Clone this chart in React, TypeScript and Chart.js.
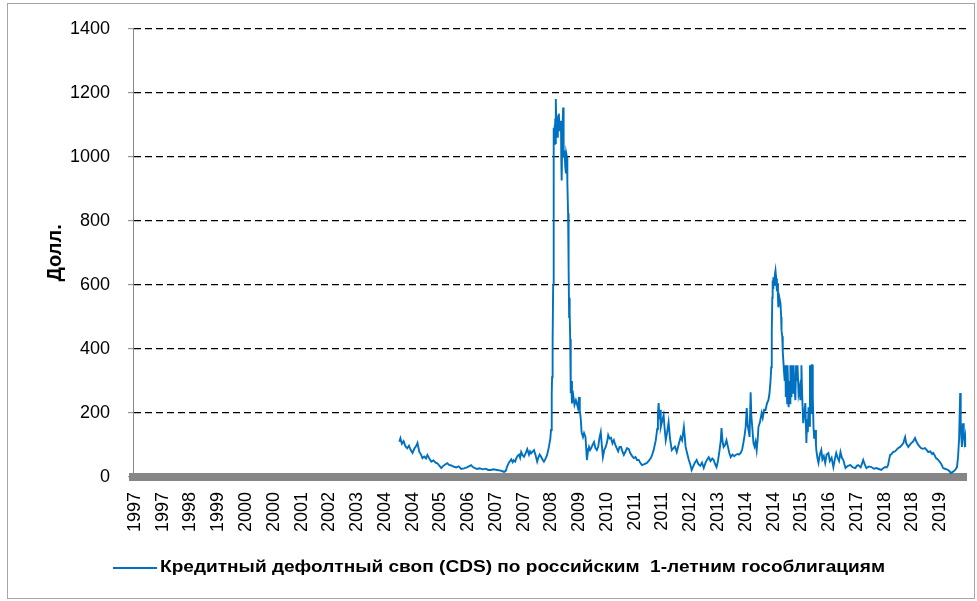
import React, { useEffect, useRef } from "react";
import { Chart, registerables } from "chart.js";

Chart.register(...registerables);

// Dates as fractional years, values in USD (basis points of CDS price)
const years: number[] = [
  2004.40, 2004.43, 2004.47, 2004.52, 2004.57, 2004.62, 2004.67, 2004.72, 2004.77, 2004.82, 2004.88, 2004.91, 2004.96,
  2005.01, 2005.05, 2005.10, 2005.15, 2005.19, 2005.25, 2005.30, 2005.36, 2005.42, 2005.47, 2005.52, 2005.58, 2005.63,
  2005.70, 2005.75, 2005.80, 2005.86, 2005.94, 2006.00, 2006.07, 2006.14, 2006.22, 2006.30, 2006.37, 2006.42, 2006.47,
  2006.53, 2006.59, 2006.66, 2006.75, 2006.83, 2006.90, 2006.98, 2007.05, 2007.15, 2007.25, 2007.30, 2007.35, 2007.40,
  2007.43, 2007.48, 2007.55, 2007.59, 2007.62, 2007.66, 2007.69, 2007.73, 2007.77, 2007.80, 2007.83, 2007.87, 2007.91,
  2007.96, 2008.00, 2008.05, 2008.08, 2008.11, 2008.15, 2008.19, 2008.23, 2008.28, 2008.31, 2008.35, 2008.39, 2008.43,
  2008.47, 2008.52, 2008.56, 2008.61, 2008.65, 2008.67, 2008.69, 2008.70, 2008.71, 2008.72, 2008.73, 2008.74, 2008.75,
  2008.76, 2008.77, 2008.78, 2008.79, 2008.80, 2008.81, 2008.82, 2008.83, 2008.84, 2008.86, 2008.87, 2008.89, 2008.91,
  2008.93, 2008.95, 2008.96, 2008.97, 2008.99, 2009.01, 2009.02, 2009.03, 2009.05, 2009.07, 2009.09, 2009.10, 2009.12,
  2009.13, 2009.15, 2009.16, 2009.17, 2009.18, 2009.19, 2009.20, 2009.21, 2009.22, 2009.23, 2009.24, 2009.26, 2009.28,
  2009.30, 2009.33, 2009.37, 2009.40, 2009.43, 2009.46, 2009.48, 2009.51, 2009.53, 2009.57, 2009.60, 2009.64, 2009.66,
  2009.68, 2009.71, 2009.74, 2009.77, 2009.80, 2009.84, 2009.88, 2009.92, 2009.96, 2010.00, 2010.03, 2010.07, 2010.10,
  2010.13, 2010.17, 2010.21, 2010.25, 2010.28, 2010.32, 2010.36, 2010.40, 2010.44, 2010.48, 2010.52, 2010.56, 2010.60,
  2010.64, 2010.68, 2010.72, 2010.76, 2010.81, 2010.86, 2010.90, 2010.95, 2011.00, 2011.05, 2011.09, 2011.14, 2011.18,
  2011.23, 2011.30, 2011.37, 2011.42, 2011.48, 2011.52, 2011.56, 2011.59, 2011.62, 2011.66, 2011.68, 2011.70, 2011.72,
  2011.74, 2011.76, 2011.80, 2011.84, 2011.87, 2011.90, 2011.94, 2011.98, 2012.02, 2012.07, 2012.12, 2012.16, 2012.21,
  2012.26, 2012.32, 2012.36, 2012.41, 2012.44, 2012.46, 2012.50, 2012.55, 2012.59, 2012.63, 2012.68, 2012.72, 2012.77,
  2012.82, 2012.87, 2012.92, 2012.97, 2013.02, 2013.07, 2013.11, 2013.16, 2013.21, 2013.25, 2013.29, 2013.33, 2013.37,
  2013.41, 2013.45, 2013.47, 2013.50, 2013.53, 2013.57, 2013.61, 2013.65, 2013.69, 2013.73, 2013.78, 2013.83, 2013.87,
  2013.92, 2013.96, 2014.01, 2014.05, 2014.09, 2014.12, 2014.15, 2014.18, 2014.21, 2014.24, 2014.26, 2014.29, 2014.31,
  2014.34, 2014.37, 2014.40, 2014.43, 2014.46, 2014.49, 2014.51, 2014.55, 2014.60, 2014.63, 2014.67, 2014.71, 2014.75,
  2014.79, 2014.82, 2014.85, 2014.87, 2014.88, 2014.89, 2014.90, 2014.91, 2014.92, 2014.93, 2014.95, 2014.97, 2014.99,
  2015.01, 2015.03, 2015.05, 2015.06, 2015.07, 2015.10, 2015.13, 2015.15, 2015.16, 2015.18, 2015.19, 2015.20, 2015.21,
  2015.23, 2015.25, 2015.27, 2015.28, 2015.30, 2015.32, 2015.33, 2015.35, 2015.36, 2015.38, 2015.40, 2015.41, 2015.43,
  2015.44, 2015.46, 2015.48, 2015.50, 2015.52, 2015.55, 2015.57, 2015.59, 2015.61, 2015.64, 2015.67, 2015.69, 2015.71,
  2015.72, 2015.74, 2015.77, 2015.80, 2015.83, 2015.85, 2015.86, 2015.88, 2015.90, 2015.92, 2015.94, 2015.96, 2015.99,
  2016.01, 2016.03, 2016.04, 2016.06, 2016.08, 2016.11, 2016.13, 2016.14, 2016.17, 2016.20, 2016.24, 2016.28, 2016.31,
  2016.35, 2016.39, 2016.43, 2016.48, 2016.52, 2016.57, 2016.62, 2016.66, 2016.70, 2016.74, 2016.78, 2016.82, 2016.86,
  2016.90, 2016.96, 2017.03, 2017.10, 2017.17, 2017.24, 2017.28, 2017.32, 2017.39, 2017.46, 2017.50, 2017.55, 2017.62,
  2017.69, 2017.76, 2017.83, 2017.90, 2017.97, 2018.03, 2018.08, 2018.12, 2018.16, 2018.19, 2018.22, 2018.26, 2018.30,
  2018.35, 2018.39, 2018.44, 2018.50, 2018.55, 2018.59, 2018.62, 2018.64, 2018.67, 2018.70, 2018.73, 2018.77, 2018.81,
  2018.86, 2018.90, 2018.92, 2018.96, 2019.01, 2019.05, 2019.09, 2019.14, 2019.20, 2019.25, 2019.29, 2019.35, 2019.40,
  2019.43, 2019.47, 2019.51, 2019.56, 2019.62, 2019.66, 2019.71, 2019.78, 2019.85, 2019.89, 2019.93, 2019.98, 2020.05,
  2020.10, 2020.13, 2020.16, 2020.19, 2020.20, 2020.21, 2020.22, 2020.24, 2020.25, 2020.27, 2020.29, 2020.31, 2020.33,
  2020.34, 2020.35,
];

const cdsValues: number[] = [
  110, 121, 104, 112, 96, 90, 98, 84, 75, 88, 98, 106, 79,
  70, 59, 64, 58, 69, 56, 48, 52, 45, 43, 36, 28, 34,
  40, 43, 38, 36, 32, 30, 33, 25, 27, 30, 34, 37, 31,
  28, 25, 27, 24, 26, 22, 22, 24, 22, 20, 18, 16, 20,
  32, 44, 55, 46, 52, 48, 58, 66, 70, 60, 78, 68, 63,
  75, 87, 70, 80, 74, 79, 84, 70, 48, 60, 70, 63, 55,
  48, 58, 69, 94, 120, 147, 260, 312, 330, 427, 600, 900, 1091,
  1040, 1100, 1060, 1120, 1040, 1181, 1090, 1130, 1104, 1060, 1120, 1135, 1080,
  1110, 1113, 980, 926, 1080, 1154, 1060, 998, 1020, 970, 948, 1010, 998,
  920, 823, 740, 655, 500, 560, 511, 430, 405, 262, 300, 230, 270,
  250, 225, 240, 228, 215, 250, 209, 178, 140, 125, 137, 125, 90,
  53, 80, 94, 84, 90, 100, 109, 90, 84, 95, 120, 140, 100,
  62, 85, 94, 110, 131, 120, 122, 105, 115, 100, 90, 80, 94,
  94, 80, 69, 78, 90, 87, 75, 66, 59, 62, 53, 53, 45,
  37, 40, 44, 50, 59, 70, 84, 100, 115, 150, 200, 231, 180,
  210, 156, 175, 193, 150, 115, 140, 171, 120, 84, 90, 95, 78,
  100, 125, 115, 156, 120, 94, 75, 53, 40, 22, 35, 45, 53,
  40, 35, 45, 28, 45, 55, 62, 50, 58, 53, 40, 31, 50,
  80, 115, 153, 110, 94, 100, 115, 95, 75, 62, 70, 65, 69,
  72, 70, 75, 85, 109, 130, 156, 215, 160, 140, 125, 265, 190,
  150, 106, 95, 110, 84, 120, 156, 170, 200, 185, 210, 209, 230,
  240, 260, 300, 343, 355, 450, 560, 614, 590, 624, 600, 630, 645,
  620, 580, 605, 560, 530, 560, 543, 500, 458, 440, 418, 390, 365,
  330, 300, 349, 250, 293, 230, 349, 260, 218, 300, 230, 349, 270,
  249, 349, 260, 349, 280, 240, 349, 300, 349, 260, 280, 240, 300,
  349, 260, 168, 200, 231, 150, 106, 180, 140, 218, 160, 349, 200,
  349, 349, 250, 156, 120, 147, 100, 84, 60, 44, 70, 84, 55,
  65, 44, 70, 75, 50, 60, 31, 55, 75, 60, 50, 78, 60,
  53, 28, 35, 37, 30, 28, 35, 37, 30, 53, 40, 28, 33,
  31, 26, 28, 25, 22, 28, 31, 30, 37, 55, 69, 72, 78,
  80, 84, 90, 94, 100, 106, 118, 125, 105, 100, 94, 100, 106,
  110, 118, 122, 110, 100, 95, 90, 88, 90, 84, 78, 80, 72,
  75, 68, 59, 55, 47, 40, 28, 25, 22, 18, 12, 16, 22,
  31, 62, 120, 262, 220, 178, 130, 94, 140, 168, 130, 110, 125,
  100, 94,
];

const xTickLabels: string[] = [
  "1997", "1997", "1998", "1999", "2000", "2000", "2001", "2002", "2003", "2004",
  "2004", "2005", "2006", "2007", "2007", "2008", "2009", "2010", "2011", "2011",
  "2012", "2013", "2014", "2014", "2015", "2016", "2017", "2018", "2018", "2019",
];
const xTickStart = 1996.956;
const xTickStep = 0.7817;
const xMin = 1996.9;
const xMax = 2020.36;

const yTicks: number[] = [0, 200, 400, 600, 800, 1000, 1200, 1400];

const seriesLabel = "Кредитный дефолтный своп (CDS) по российским  1-летним гособлигациям";
const yTitle = "Долл.";

export default function App() {
  const canvasRef = useRef<HTMLCanvasElement | null>(null);
  const legendTextRef = useRef<HTMLSpanElement | null>(null);

  useEffect(() => {
    const canvas = canvasRef.current;
    if (!canvas) return;
    const points = years.map((x, i) => ({ x, y: cdsValues[i] }));
    const chart = new Chart(canvas, {
      type: "line",
      data: {
        datasets: [
          {
            label: seriesLabel,
            data: points,
            borderColor: "#0070C0",
            backgroundColor: "#0070C0",
            borderWidth: 1.9,
            pointRadius: 0,
            tension: 0,
          },
        ],
      },
      options: {
        animation: false,
        responsive: false,
        devicePixelRatio: 1,
        parsing: false,
        layout: { padding: { left: 0, top: 28, right: 9, bottom: 0 } },
        plugins: { legend: { display: false }, tooltip: { enabled: false } },
        scales: {
          x: {
            type: "linear",
            min: xMin,
            max: xMax,
            afterFit: (scale: any) => {
              scale.height = 124;
            },
            afterBuildTicks: (scale: any) => {
              scale.ticks = xTickLabels.map((_, i) => ({ value: xTickStart + i * xTickStep }));
            },
            ticks: {
              autoSkip: false,
              minRotation: 90,
              maxRotation: 90,
              padding: 15,
              color: "#000",
              font: { family: "'Liberation Sans', Arial, sans-serif", size: 18 },
              callback: (_v: any, i: number) => xTickLabels[i],
            },
            grid: { display: false, drawTicks: false },
            border: { display: true, color: "#868686", width: 8 },
          },
          y: {
            min: 0,
            max: 1400,
            afterFit: (scale: any) => {
              scale.width = 133;
            },
            afterBuildTicks: (scale: any) => {
              scale.ticks = yTicks.map((v) => ({ value: v }));
            },
            ticks: {
              padding: 18,
              color: "#000",
              font: { family: "'Liberation Sans', Arial, sans-serif", size: 18 },
              callback: (v: any) => String(v),
            },
            grid: {
              color: (ctx: any) => (ctx.tick && ctx.tick.value === 0 ? "rgba(0,0,0,0)" : "#000"),
              lineWidth: 1.3,
              tickLength: 5,
              tickColor: "#888",
              tickWidth: 1,
              tickBorderDash: [],
            },
            border: { display: true, color: "#888", width: 1, dash: [7, 4] },
            title: {
              display: true,
              text: yTitle,
              color: "#000",
              font: { family: "'Liberation Sans', Arial, sans-serif", size: 20, weight: "bold" },
              padding: { top: 43, bottom: 0 },
            },
          },
        },
      },
    });

    const span = legendTextRef.current;
    if (span) {
      const w = span.getBoundingClientRect().width;
      if (w > 0) span.style.transform = `scaleX(${725 / w})`;
    }
    return () => chart.destroy();
  }, []);

  return (
    <div style={{ position: "absolute", left: 0, top: 0, width: 977, height: 601, background: "#fff", overflow: "hidden" }}>
      <div
        style={{
          position: "absolute",
          left: 7,
          top: 3,
          width: 968,
          height: 596,
          border: "1px solid #a6a6a6",
          boxSizing: "border-box",
        }}
      />
      <canvas ref={canvasRef} width={977} height={601} style={{ position: "absolute", left: 0, top: 0, width: 977, height: 601 }} />
      <div style={{ position: "absolute", left: 113, top: 567, width: 44, height: 2, background: "#0070C0" }} />
      <span
        ref={legendTextRef}
        style={{
          position: "absolute",
          left: 160,
          top: 557,
          whiteSpace: "pre",
          fontFamily: "'Liberation Sans', Arial, sans-serif",
          fontWeight: "bold",
          fontSize: 17,
          lineHeight: "20px",
          color: "#000",
          transformOrigin: "left center",
          display: "inline-block",
        }}
      >
        {seriesLabel}
      </span>
    </div>
  );
}
